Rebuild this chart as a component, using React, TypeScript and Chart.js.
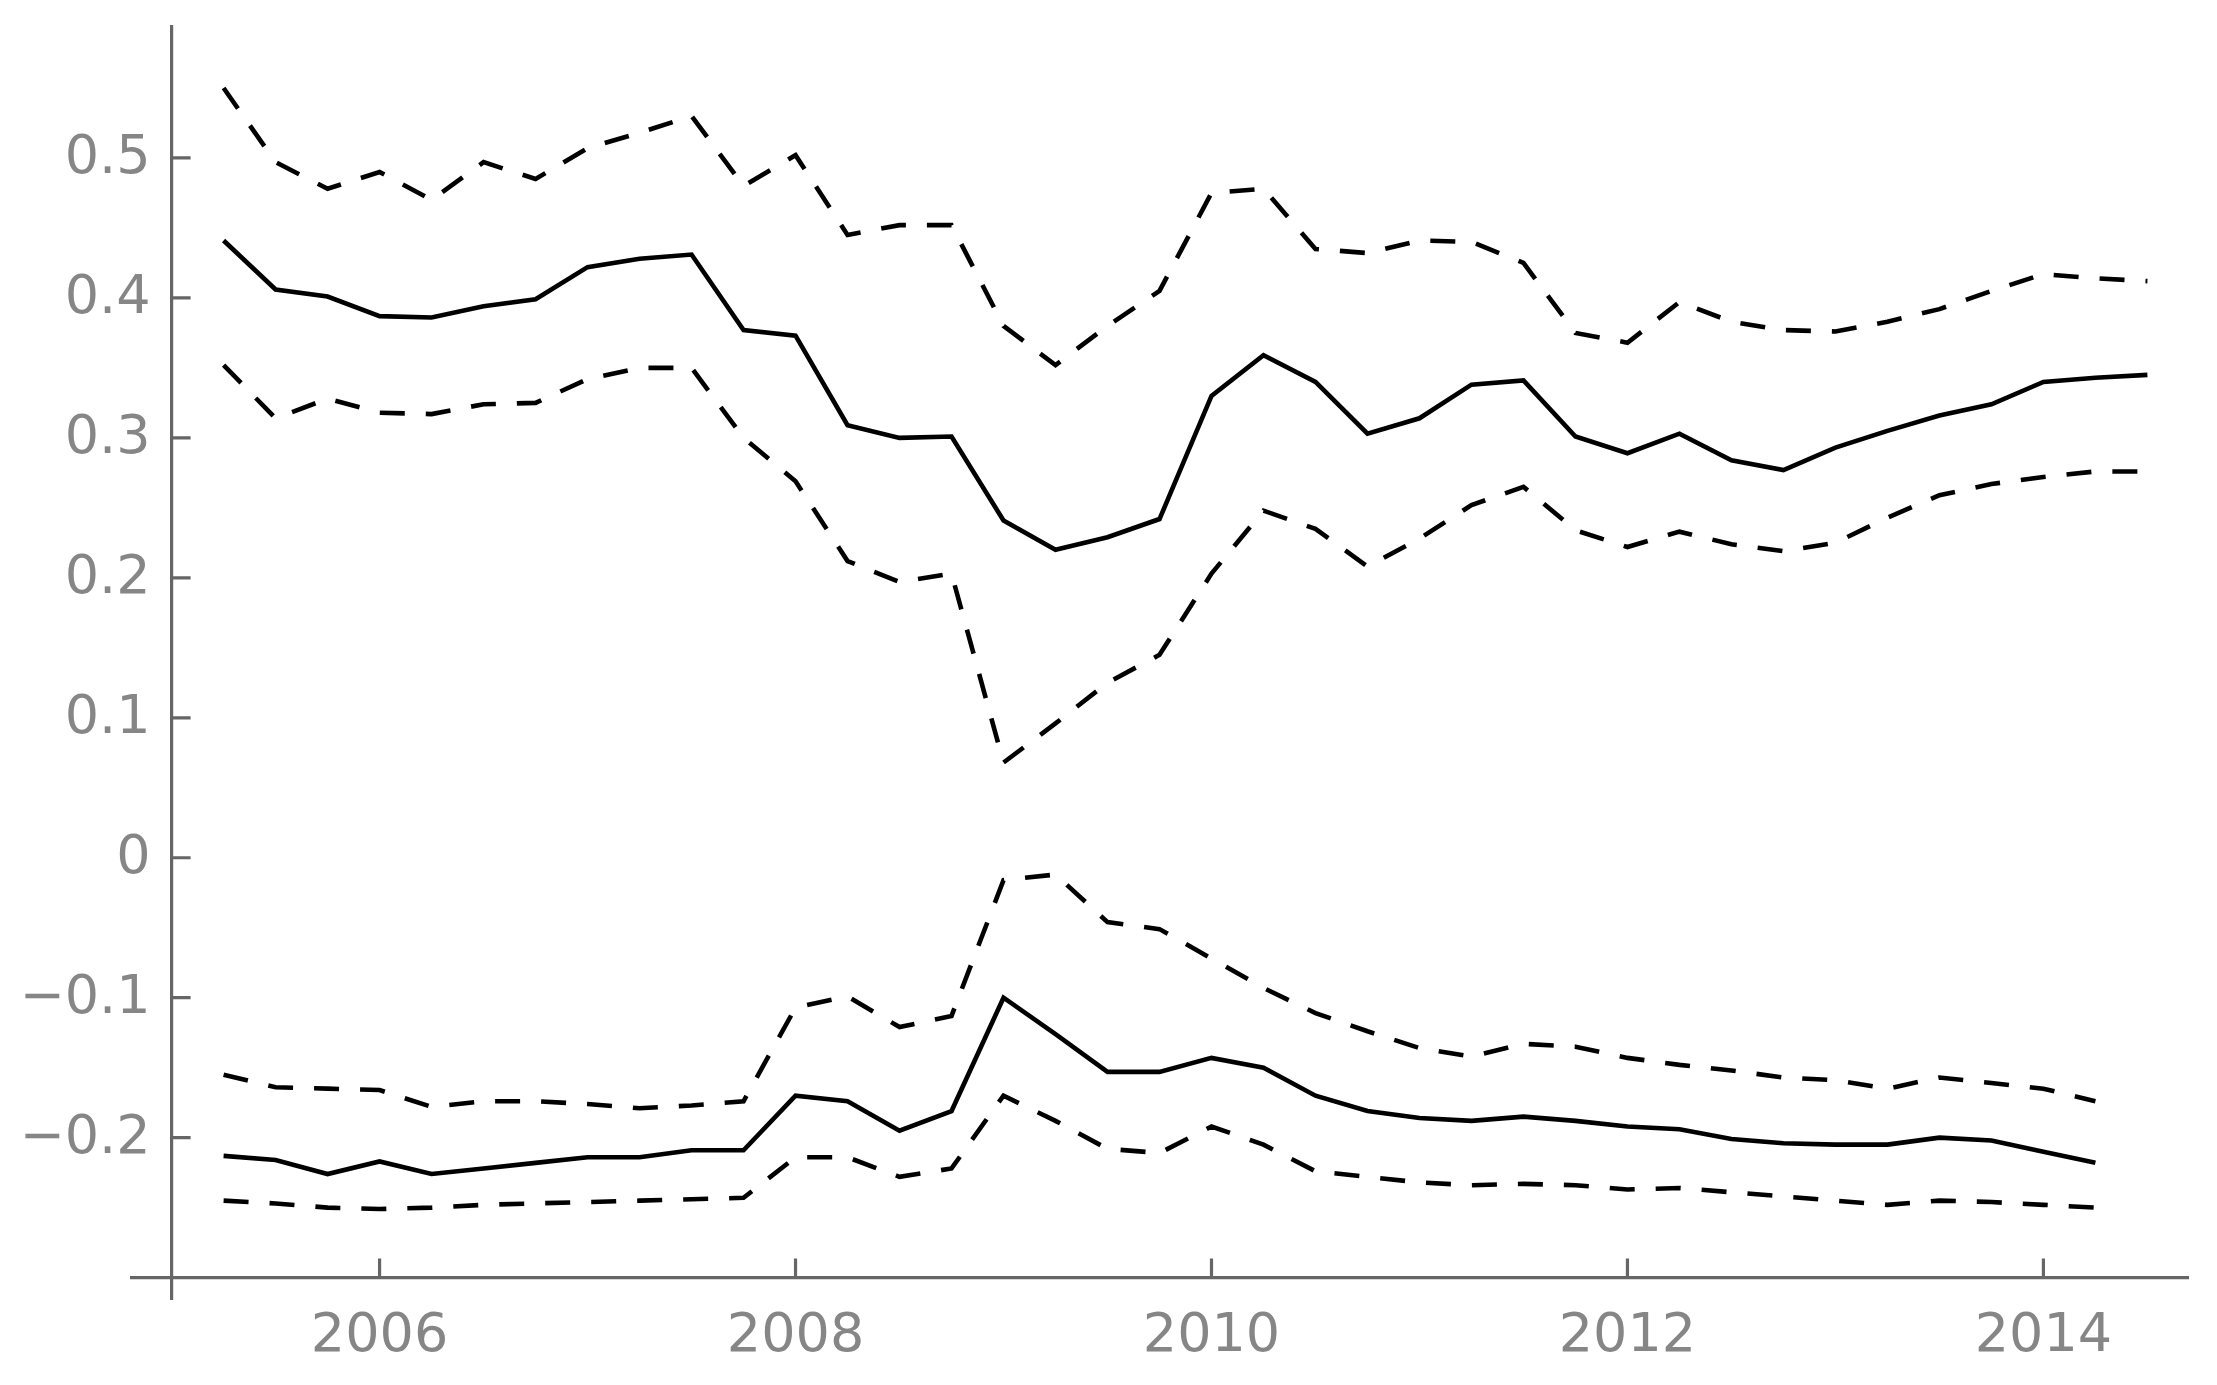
import React, { useEffect, useRef } from "react";
import { Chart, registerables } from "chart.js";

Chart.register(...registerables);

const quarters = [
  2005.25, 2005.5, 2005.75, 2006, 2006.25, 2006.5, 2006.75, 2007, 2007.25, 2007.5,
  2007.75, 2008, 2008.25, 2008.5, 2008.75, 2009, 2009.25, 2009.5, 2009.75, 2010,
  2010.25, 2010.5, 2010.75, 2011, 2011.25, 2011.5, 2011.75, 2012, 2012.25, 2012.5,
  2012.75, 2013, 2013.25, 2013.5, 2013.75, 2014, 2014.25, 2014.5,
];

const upperMid = [
  0.441, 0.406, 0.401, 0.387, 0.386, 0.394, 0.399, 0.422, 0.428, 0.431,
  0.377, 0.373, 0.309, 0.3, 0.301, 0.241, 0.22, 0.229, 0.242, 0.33,
  0.359, 0.34, 0.303, 0.314, 0.338, 0.341, 0.301, 0.289, 0.303, 0.284,
  0.277, 0.293, 0.305, 0.316, 0.324, 0.34, 0.343, 0.345,
];
const upperHi = [
  0.55, 0.497, 0.478, 0.49, 0.47, 0.497, 0.485, 0.507, 0.518, 0.53,
  0.48, 0.502, 0.445, 0.452, 0.452, 0.38, 0.352, 0.38, 0.405, 0.475,
  0.478, 0.435, 0.432, 0.441, 0.44, 0.425, 0.375, 0.368, 0.397, 0.383,
  0.377, 0.376, 0.383, 0.392, 0.405, 0.417, 0.414, 0.412,
];
const upperLo = [
  0.352, 0.314, 0.328, 0.318, 0.317, 0.324, 0.325, 0.342, 0.35, 0.35,
  0.3, 0.269, 0.212, 0.197, 0.203, 0.068, 0.096, 0.125, 0.145, 0.203,
  0.248, 0.235, 0.208, 0.228, 0.252, 0.265, 0.234, 0.222, 0.233, 0.224,
  0.219, 0.225, 0.243, 0.259, 0.267, 0.272, 0.276, 0.276,
];
const lowerMid = [
  -0.213, -0.216, -0.226, -0.217, -0.226, -0.222, -0.218, -0.214, -0.214, -0.209,
  -0.209, -0.17, -0.174, -0.195, -0.181, -0.1, -0.126, -0.153, -0.153, -0.143,
  -0.15, -0.17, -0.181, -0.186, -0.188, -0.185, -0.188, -0.192, -0.194, -0.201,
  -0.204, -0.205, -0.205, -0.2, -0.202, -0.21, -0.218,
];
const lowerHi = [
  -0.155, -0.164, -0.165, -0.166, -0.178, -0.174, -0.174, -0.176, -0.179, -0.177,
  -0.174, -0.107, -0.099, -0.121, -0.113, -0.016, -0.012, -0.046, -0.051, -0.072,
  -0.093, -0.111, -0.124, -0.136, -0.142, -0.133, -0.135, -0.143, -0.148, -0.152,
  -0.157, -0.159, -0.165, -0.157, -0.161, -0.165, -0.174,
];
const lowerLo = [
  -0.245, -0.247, -0.25, -0.251, -0.25, -0.248, -0.247, -0.246, -0.245, -0.244,
  -0.243, -0.214, -0.214, -0.228, -0.222, -0.17, -0.188, -0.208, -0.211, -0.192,
  -0.205, -0.224, -0.228, -0.232, -0.234, -0.233, -0.234, -0.237, -0.236, -0.239,
  -0.242, -0.245, -0.248, -0.245, -0.246, -0.248, -0.25,
];

const xTicks = [2006, 2008, 2010, 2012, 2014];
const yTicks = [-0.2, -0.1, 0, 0.1, 0.2, 0.3, 0.4, 0.5];
const yTickLabels = ["\u22120.2", "\u22120.1", "0", "0.1", "0.2", "0.3", "0.4", "0.5"];
const xAxisAt = -0.3;
const yAxisAt = 2005;

const W = 2217;
const H = 1385;
const AXIS = "#666666";
const LABEL = "#868686";
const FONT = '54px "DejaVu Sans"';

function pts(vals: number[]) {
  return vals.map((v, i) => ({ x: quarters[i], y: v }));
}

const axesPlugin = {
  id: "mmaAxes",
  beforeDatasetsDraw(chart: any) {
    const { ctx, chartArea, scales } = chart;
    const xs = scales.x;
    const ys = scales.y;
    const ax = xs.getPixelForValue(yAxisAt);
    const ay = ys.getPixelForValue(xAxisAt);
    ctx.save();
    ctx.strokeStyle = AXIS;
    ctx.lineWidth = 3.2;
    ctx.lineCap = "butt";
    ctx.beginPath();
    ctx.moveTo(ax, chartArea.top);
    ctx.lineTo(ax, chartArea.bottom);
    ctx.moveTo(chartArea.left, ay);
    ctx.lineTo(chartArea.right, ay);
    for (const t of yTicks) {
      const y = ys.getPixelForValue(t);
      ctx.moveTo(ax, y);
      ctx.lineTo(ax + 19, y);
    }
    for (const t of xTicks) {
      const x = xs.getPixelForValue(t);
      ctx.moveTo(x, ay);
      ctx.lineTo(x, ay - 19);
    }
    ctx.stroke();

    ctx.fillStyle = LABEL;
    ctx.font = FONT;
    ctx.textAlign = "right";
    ctx.textBaseline = "alphabetic";
    yTicks.forEach((t, i) => {
      const y = ys.getPixelForValue(t);
      ctx.fillText(yTickLabels[i], ax - 21, y + 15);
    });
    ctx.textAlign = "center";
    xTicks.forEach((t) => {
      const x = xs.getPixelForValue(t);
      ctx.fillText(String(t), x, ay + 73);
    });
    ctx.restore();
  },
};

export default function App() {
  const ref = useRef<HTMLCanvasElement | null>(null);
  useEffect(() => {
    if (!ref.current) return;
    const solid = { borderColor: "#000", borderWidth: 4.6, pointRadius: 0, tension: 0, fill: false };
    const dashed = { ...solid, borderDash: [25, 21] };
    const chart = new Chart(ref.current, {
      type: "line",
      data: {
        datasets: [
          { label: "upper", data: pts(upperMid), ...solid },
          { label: "upper hi", data: pts(upperHi), ...dashed },
          { label: "upper lo", data: pts(upperLo), ...dashed },
          { label: "lower", data: pts(lowerMid), ...solid },
          { label: "lower hi", data: pts(lowerHi), ...dashed },
          { label: "lower lo", data: pts(lowerLo), ...dashed },
        ],
      } as any,
      options: {
        animation: false,
        responsive: false,
        devicePixelRatio: 1,
        layout: { padding: { left: 130, right: 28, top: 25, bottom: 85 } },
        plugins: { legend: { display: false }, tooltip: { enabled: false } },
        scales: {
          x: { type: "linear", min: 2004.8, max: 2014.7, display: false },
          y: { type: "linear", min: -0.316, max: 0.595, display: false },
        },
        elements: { line: { borderCapStyle: "butt", borderJoinStyle: "miter" } },
      } as any,
      plugins: [axesPlugin],
    });
    return () => chart.destroy();
  }, []);
  return (
    <div style={{ position: "absolute", left: 0, top: 0, width: W, height: H, background: "#fff" }}>
      <canvas ref={ref} width={W} height={H} style={{ display: "block", width: W, height: H }} />
    </div>
  );
}
